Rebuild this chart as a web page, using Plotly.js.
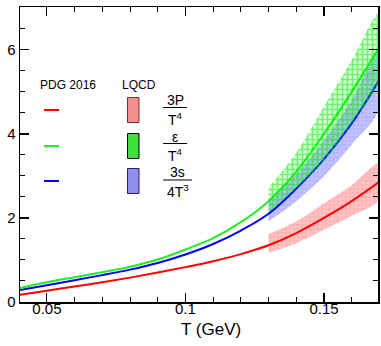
<!DOCTYPE html>
<html><head><meta charset="utf-8">
<script src="https://cdn.plot.ly/plotly-3.0.1.min.js"></script>
<style>html,body{margin:0;padding:0;background:#fff}#c{width:381px;height:346px}</style>
</head><body><div id="c"></div>
<script>
// Temperature grid (GeV)
const T = [0.04,0.05,0.06,0.07,0.08,0.09,0.10,0.11,0.12,0.13,0.14,0.15,0.16,0.17];
// PDG 2016 HRG curves
const pressure3 = [0.17,0.27,0.37,0.47,0.58,0.70,0.83,0.97,1.14,1.35,1.64,2.00,2.40,2.86];
const energy    = [0.33,0.47,0.59,0.71,0.84,1.01,1.25,1.52,1.90,2.40,3.10,4.00,5.00,6.07];
const entropy   = [0.28,0.40,0.52,0.64,0.77,0.93,1.13,1.38,1.70,2.10,2.70,3.40,4.25,5.29];
// LQCD bands
const Tl = [0.13,0.14,0.15,0.16,0.17];
const pLo = [1.17,1.40,1.72,2.05,2.45], pHi = [1.62,1.92,2.35,2.78,3.30];
const eLo = [2.12,2.70,3.35,4.25,5.27], eHi = [2.72,3.55,4.65,5.75,6.88];
const sLo = [1.92,2.40,3.00,3.75,4.60], sHi = [2.45,3.05,3.85,4.80,6.00];

function band(lo, hi, pat, name){
  return {x: Tl.concat(Tl.slice().reverse()), y: lo.concat(hi.slice().reverse()),
    type:'scatter', mode:'none', fill:'toself', fillcolor: pat.bgcolor, fillpattern: pat,
    line:{shape:'spline'}, hoverinfo:'skip', showlegend:false, name:name};
}
function line(y, c){ return {x:T, y:y, type:'scatter', mode:'lines', line:{color:c, width:2, shape:'spline', smoothing:1}, showlegend:false}; }

const data = [
  band(sLo, sHi, {shape:'+', fgcolor:'rgba(110,110,255,0.6)', bgcolor:'rgba(150,150,255,0.55)', size:4, solidity:0.4, fillmode:'overlay'}, 's'),
  band(pLo, pHi, {shape:'+', fgcolor:'rgba(255,110,110,0.6)', bgcolor:'rgba(255,160,160,0.6)', size:4, solidity:0.4, fillmode:'overlay'}, 'p'),
  line(pressure3,'#ff0000'), line(entropy,'#0000ff'), line(energy,'#22ee22'),
  band(eLo, eHi, {shape:'+', fgcolor:'rgba(0,235,0,1)', bgcolor:'rgba(0,255,0,0.15)', size:5, solidity:0.55, fillmode:'overlay'}, 'e')
];

const L=20, R=378, TOP=7, B=302;
const px = x => (x-L)/(R-L), py = y => (B-y)/(B-TOP);
const font = 'Liberation Sans, Arial, sans-serif';
const ann = [];
const shapes = [];
function txt(t,x,y,s){ ann.push({text:t, x:px(x), y:py(y), xref:'paper', yref:'paper', showarrow:false, font:{family:font,size:s,color:'#000'}, xanchor:'center', yanchor:'middle'}); }
txt('PDG 2016', 68, 85, 12);
txt('LQCD', 139, 85, 12);
txt('T (GeV)', 211, 329, 17);
const rows = [
  {y:110, c:'#ff0000', fill:'rgba(240,130,130,0.9)', edge:'#7a3030', num:'3P', den:'T<sup>4</sup>', ny:100, by:107.5, dy:119, w:[163,187]},
  {y:146, c:'#22ee22', fill:'rgba(40,220,40,0.9)', edge:'#000000', num:'ε', den:'T<sup>4</sup>', ny:137, by:143.5, dy:155, w:[163,187]},
  {y:181, c:'#0000ff', fill:'rgba(130,130,235,0.9)', edge:'#202070', num:'3s', den:'4T<sup>3</sup>', ny:172, by:180, dy:191, w:[163,192]}
];
rows.forEach(r=>{
  shapes.push({type:'line', xref:'paper', yref:'paper', x0:px(44), x1:px(59), y0:py(r.y), y1:py(r.y), line:{color:r.c, width:2}});
  shapes.push({type:'rect', xref:'paper', yref:'paper', x0:px(127.5), x1:px(139), y0:py(r.y-12.5), y1:py(r.y+12.5), fillcolor:r.fill, line:{color:r.edge, width:1}});
  shapes.push({type:'line', xref:'paper', yref:'paper', x0:px(r.w[0]), x1:px(r.w[1]), y0:py(r.by), y1:py(r.by), line:{color:'#000', width:1}});
  txt(r.num, (r.w[0]+r.w[1])/2, r.ny, 14);
  txt(r.den, (r.w[0]+r.w[1])/2, r.dy, 14);
});

const axBase = {showline:true, linecolor:'#000', linewidth:1.5, mirror:'allticks', ticks:'inside', ticklen:9, tickwidth:1.2, tickcolor:'#000', showgrid:false, zeroline:false, tickfont:{family:font, size:15, color:'#000'}};
const layout = {
  width:381, height:346, margin:{l:L, r:381-R, t:TOP, b:346-B}, paper_bgcolor:'#fff', plot_bgcolor:'#fff',
  showlegend:false,
  xaxis: Object.assign({}, axBase, {range:[0.0403,0.1695], tickvals:[0.05,0.1,0.15], ticktext:['0.05','0.1','0.15'], ticklabelstandoff:-8,
    minor:{dtick:0.01, tick0:0, ticks:'inside', ticklen:5, tickcolor:'#000', tickwidth:1}}),
  yaxis: Object.assign({}, axBase, {range:[0,7.02], dtick:2, tick0:0,
    minor:{dtick:0.5, tick0:0, ticks:'inside', ticklen:5, tickcolor:'#000', tickwidth:1}}),
  annotations: ann, shapes: shapes
};
Plotly.newPlot('c', data, layout, {displayModeBar:false, staticPlot:true});
</script></body></html>
